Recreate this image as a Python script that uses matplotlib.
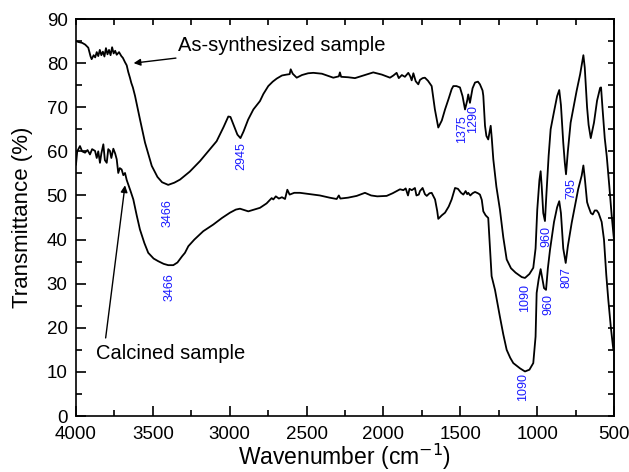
import numpy as np
import matplotlib
matplotlib.use("Agg")
import matplotlib.pyplot as plt

plt.rcParams['font.family'] = ['Liberation Sans', 'DejaVu Sans']

# As-synthesized sample (wavenumber, transmittance)
top_w = [4000, 3985, 3960, 3940, 3920, 3905, 3898, 3885, 3875, 3865, 3855, 3845, 3835, 3825,
         3815, 3805, 3795, 3785, 3775, 3765, 3755, 3745, 3735, 3720, 3705, 3695, 3681, 3670,
         3660, 3649, 3640, 3630, 3616, 3584, 3551, 3507, 3470, 3440, 3400, 3360, 3323, 3260,
         3193, 3140, 3085, 3040, 3009, 2995, 2975, 2950, 2930, 2910, 2880, 2846, 2803, 2781,
         2749, 2720, 2694, 2660, 2630, 2610, 2603, 2590, 2564, 2530, 2490, 2456, 2400, 2326,
         2290, 2283, 2275, 2230, 2185, 2120, 2066, 2010, 1957, 1935, 1914, 1900, 1880, 1860,
         1838, 1825, 1816, 1805, 1790, 1773, 1762, 1745, 1730, 1710, 1686, 1665, 1643, 1620,
         1599, 1575, 1556, 1545, 1525, 1502, 1485, 1469, 1455, 1448, 1442, 1437, 1420, 1404,
         1385, 1372, 1355, 1350, 1339, 1330, 1318, 1302, 1295, 1285, 1265, 1242, 1220, 1198,
         1170, 1140, 1100, 1079, 1050, 1025, 1010, 999, 985, 977, 970, 960, 949, 940, 925,
         912, 890, 870, 856, 845, 830, 820, 812, 800, 782, 760, 743, 720, 699, 690, 675, 665,
         651, 630, 610, 590, 584, 575, 560, 547, 530, 515, 500]
top_t = [85.0, 84.8, 84.6, 84.2, 83.5, 81.5, 80.9, 81.8, 81.3, 82.5, 81.6, 83.0, 81.8, 82.6,
         81.5, 83.4, 82.0, 83.0, 81.8, 83.6, 82.2, 82.8, 81.9, 82.5, 81.6, 81.2, 80.2, 79.5,
         78.0, 76.7, 75.5, 74.5, 72.6, 67.3, 62.0, 56.7, 54.2, 53.0, 52.4, 52.9, 53.6, 55.4,
         57.8, 60.0, 62.3, 65.5, 67.9, 67.8, 66.0, 63.8, 63.0, 64.5, 67.2, 69.5, 71.4, 73.0,
         74.8, 75.8, 76.5, 77.2, 77.4, 77.5, 78.6, 77.6, 76.7, 77.3, 77.7, 77.8, 77.6, 76.7,
         77.0, 77.9, 76.9, 76.8, 76.6, 77.3, 77.9, 77.4, 76.7, 77.2, 77.8, 76.6, 77.3, 76.9,
         77.8, 77.0, 76.1, 77.7, 75.9, 75.2, 76.2, 76.6, 76.7, 76.0, 74.8, 69.5, 65.4, 67.0,
         69.5, 72.0, 74.1, 74.8, 74.8, 74.5, 72.5, 69.5, 71.5, 72.9, 71.8, 71.0, 74.3, 75.6,
         75.8, 75.2, 73.8, 72.6, 65.8, 63.5, 62.7, 65.8, 63.0, 58.2, 52.0, 46.8, 40.5, 35.5,
         33.5, 32.5, 31.5, 31.3, 32.2, 33.6, 38.0, 46.8, 53.5, 55.5, 52.0, 46.0, 44.2, 50.0, 59.0,
         65.0, 69.0, 72.5, 73.9, 70.5, 62.0, 57.5, 54.8, 60.0, 66.5, 70.5, 73.7, 77.5, 81.8, 79.0,
         70.0, 66.0, 63.0, 66.5, 71.5, 74.4, 74.5, 70.0, 63.0, 58.9, 52.0, 45.5, 40.0]

# Calcined sample
bot_w = [4000, 3992, 3974, 3960, 3941, 3925, 3909, 3895, 3876, 3865, 3855, 3844, 3835, 3822,
         3812, 3800, 3790, 3779, 3770, 3757, 3745, 3735, 3725, 3715, 3703, 3692, 3681, 3670,
         3660, 3645, 3627, 3605, 3584, 3555, 3530, 3495, 3465, 3430, 3400, 3367, 3340, 3310,
         3291, 3269, 3230, 3172, 3107, 3050, 2998, 2960, 2933, 2905, 2879, 2840, 2803, 2760,
         2727, 2716, 2700, 2680, 2660, 2640, 2625, 2610, 2580, 2543, 2480, 2413, 2350, 2304,
         2290, 2280, 2230, 2174, 2120, 2080, 2040, 1979, 1940, 1892, 1870, 1855, 1840, 1830,
         1815, 1795, 1785, 1770, 1762, 1745, 1730, 1718, 1700, 1686, 1664, 1650, 1643, 1620,
         1599, 1575, 1556, 1534, 1515, 1495, 1480, 1465, 1455, 1448, 1435, 1420, 1404, 1385,
         1372, 1360, 1350, 1335, 1318, 1310, 1296, 1274, 1242, 1220, 1198, 1175, 1155, 1133,
         1111, 1079, 1050, 1025, 1010, 1003, 990, 977, 968, 955, 942, 930, 916, 890, 870, 856,
         845, 830, 814, 800, 775, 733, 710, 699, 690, 675, 667, 650, 638, 625, 612, 600, 580,
         565, 550, 537, 520, 504]
bot_t = [57.0, 60.0, 61.2, 60.0, 59.7, 60.3, 59.3, 60.5, 60.1, 58.5, 60.0, 57.4, 59.5, 61.6,
         58.0, 57.4, 60.5, 60.1, 58.5, 60.6, 59.5, 58.2, 55.1, 56.2, 55.9, 54.6, 55.1, 53.5,
         52.5, 51.0, 49.1, 45.5, 42.3, 39.2, 37.0, 35.7, 35.1, 34.5, 34.2, 34.2, 34.8, 36.2,
         37.0, 38.5, 40.0, 41.9, 43.4, 44.9, 46.1, 46.8, 47.0, 46.7, 46.4, 46.8, 47.2, 48.2,
         49.4, 49.1, 49.8, 49.3, 49.6, 49.2, 51.3, 50.2, 50.6, 50.6, 50.3, 50.0, 49.5, 49.2,
         50.0, 49.3, 49.5, 49.9, 50.6, 50.0, 49.8, 49.9, 50.5, 51.4, 51.2, 51.6, 50.0, 51.5,
         51.2, 51.7, 50.0, 50.2, 51.0, 51.7, 50.3, 49.9, 50.5, 50.6, 49.1, 46.5, 44.7, 45.5,
         46.1, 47.5, 49.1, 51.7, 51.5, 50.6, 50.2, 51.0, 50.3, 50.6, 50.0, 50.5, 50.8, 50.5,
         50.2, 49.0, 46.4, 45.5, 44.9, 40.0, 31.7, 28.6, 22.5, 18.5, 15.0, 13.2, 12.0, 11.4,
         10.8, 10.1, 10.5, 12.0, 18.0, 27.9, 31.0, 33.3, 31.5, 29.0, 28.6, 33.5, 37.7, 44.0,
         47.3, 48.7, 46.0, 38.0, 34.7, 38.5, 43.8, 51.4, 54.5, 56.8, 54.0, 48.5, 47.6, 46.0,
         45.7, 46.6, 46.6, 46.0, 44.0, 40.0, 32.0, 26.4, 20.0, 15.0]

# peak labels: text, wavenumber, transmittance position of label centre
peak_labels = ["3466", "3466", "2945", "1375", "1290", "795", "960", "807", "1090", "960", "1090"]
peak_w = [3401, 3389, 2922, 1487, 1415, 775, 938, 808, 1079, 927, 1090]
peak_t = [45.9, 29.3, 58.9, 65.0, 67.3, 51.6, 40.6, 31.5, 26.7, 25.2, 6.6]

fig = plt.figure(figsize=(6.29, 4.72), dpi=100)
ax = fig.add_axes([0.1208, 0.1186, 0.8553, 0.8411])

ax.plot(top_w, top_t, color='black', lw=1.3)
ax.plot(bot_w, bot_t, color='black', lw=1.3)

for lab, w, t in zip(peak_labels, peak_w, peak_t):
    ax.text(w, t, lab, rotation=90, color='#1a1aff', fontsize=9,
            ha='center', va='center')

ax.annotate('As-synthesized sample', xy=(3625, 80.0), xytext=(3336, 84.0),
            fontsize=14.5, va='center', ha='left',
            arrowprops=dict(arrowstyle='-|>', color='black', lw=1.0,
                            mutation_scale=10, shrinkA=2, shrinkB=0))
ax.annotate('', xy=(3681, 52.3), xytext=(3807, 17.7),
            arrowprops=dict(arrowstyle='-|>', color='black', lw=1.0,
                            mutation_scale=10, shrinkA=0, shrinkB=0))
ax.text(3870, 14.1, 'Calcined sample', fontsize=14.5, va='center', ha='left')

ax.set_xlim(4000, 500)
ax.set_ylim(0, 90)
ax.set_xticks(np.arange(500, 4001, 500))
ax.set_xticks(np.arange(500, 4001, 250), minor=True)
ax.set_yticks(np.arange(0, 91, 10))
ax.set_yticks(np.arange(0, 91, 5), minor=True)
ax.tick_params(which='major', direction='in', length=7, width=1.2, labelsize=13.5)
ax.tick_params(axis='x', which='major', pad=7)
ax.tick_params(axis='y', which='major', pad=6)
ax.tick_params(which='minor', direction='in', length=4, width=1.2)

secx = ax.secondary_xaxis('top')
secx.set_xticks(np.arange(500, 4001, 250))
secx.tick_params(direction='in', length=4, width=1.2, labeltop=False)
secy = ax.secondary_yaxis('right')
secy.set_yticks(np.arange(0, 91, 5))
secy.tick_params(direction='in', length=4, width=1.2, labelright=False)

for s in ax.spines.values():
    s.set_linewidth(1.2)
secx.spines['top'].set_linewidth(1.2)
secy.spines['right'].set_linewidth(1.2)

ax.set_xlabel('Wavenumber (cm$^{-1}$)', fontsize=16.5, labelpad=-1)
ax.set_ylabel('Transmittance (%)', fontsize=16, labelpad=10)

fig.savefig('out.png', dpi=100)
